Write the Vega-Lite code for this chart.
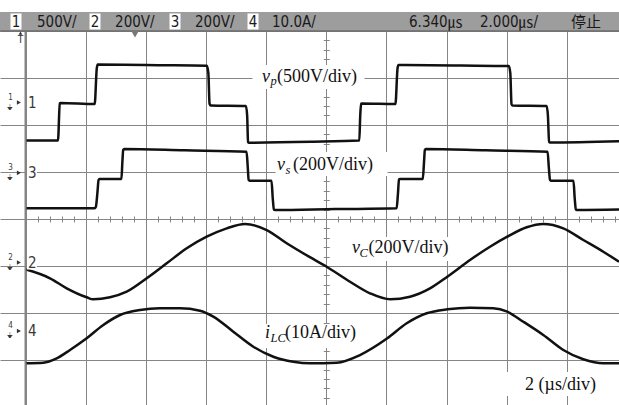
{
  "$schema": "https://vega.github.io/schema/vega-lite/v6.json",
  "width": 619,
  "height": 405,
  "autosize": "none",
  "padding": 0,
  "background": "white",
  "config": {"view": {"stroke": null}},
  "datasets": {
    "traces": [
      {"ch":"vp","t":0,"y":1.668},{"ch":"vp","t":1.08,"y":1.668},{"ch":"vp","t":1.14,"y":2.46},{"ch":"vp","t":1.17,"y":2.468},{"ch":"vp","t":2.30,"y":2.444},{"ch":"vp","t":2.37,"y":3.2},{"ch":"vp","t":2.40,"y":3.284},{"ch":"vp","t":4.5,"y":3.27},{"ch":"vp","t":6.03,"y":3.256},{"ch":"vp","t":6.08,"y":3.1},{"ch":"vp","t":6.12,"y":2.45},{"ch":"vp","t":6.16,"y":2.412},{"ch":"vp","t":7.33,"y":2.402},{"ch":"vp","t":7.37,"y":2.2},{"ch":"vp","t":7.40,"y":1.64},{"ch":"vp","t":7.43,"y":1.622},{"ch":"vp","t":9.5,"y":1.64},{"ch":"vp","t":11.10,"y":1.668},{"ch":"vp","t":11.13,"y":2.2},{"ch":"vp","t":11.16,"y":2.45},{"ch":"vp","t":11.19,"y":2.455},{"ch":"vp","t":12.30,"y":2.444},{"ch":"vp","t":12.37,"y":3.2},{"ch":"vp","t":12.40,"y":3.273},{"ch":"vp","t":14.5,"y":3.262},{"ch":"vp","t":16.07,"y":3.252},{"ch":"vp","t":16.12,"y":3.1},{"ch":"vp","t":16.16,"y":2.44},{"ch":"vp","t":16.19,"y":2.412},{"ch":"vp","t":17.33,"y":2.402},{"ch":"vp","t":17.37,"y":2.2},{"ch":"vp","t":17.41,"y":1.64},{"ch":"vp","t":17.44,"y":1.626},{"ch":"vp","t":19.74,"y":1.652},
      {"ch":"vs","t":0,"y":0.227},{"ch":"vs","t":2.30,"y":0.227},{"ch":"vs","t":2.34,"y":0.26},{"ch":"vs","t":2.39,"y":0.55},{"ch":"vs","t":2.43,"y":0.83},{"ch":"vs","t":2.46,"y":0.85},{"ch":"vs","t":3.19,"y":0.85},{"ch":"vs","t":3.22,"y":1.2},{"ch":"vs","t":3.25,"y":1.47},{"ch":"vs","t":3.28,"y":1.488},{"ch":"vs","t":5.3,"y":1.46},{"ch":"vs","t":7.35,"y":1.43},{"ch":"vs","t":7.39,"y":1.1},{"ch":"vs","t":7.42,"y":0.83},{"ch":"vs","t":7.45,"y":0.814},{"ch":"vs","t":8.18,"y":0.814},{"ch":"vs","t":8.22,"y":0.45},{"ch":"vs","t":8.26,"y":0.2},{"ch":"vs","t":8.29,"y":0.191},{"ch":"vs","t":10.3,"y":0.21},{"ch":"vs","t":12.34,"y":0.227},{"ch":"vs","t":12.38,"y":0.5},{"ch":"vs","t":12.42,"y":0.84},{"ch":"vs","t":12.45,"y":0.85},{"ch":"vs","t":13.21,"y":0.85},{"ch":"vs","t":13.25,"y":1.2},{"ch":"vs","t":13.28,"y":1.47},{"ch":"vs","t":13.31,"y":1.488},{"ch":"vs","t":15.3,"y":1.46},{"ch":"vs","t":17.36,"y":1.43},{"ch":"vs","t":17.40,"y":1.1},{"ch":"vs","t":17.44,"y":0.83},{"ch":"vs","t":17.47,"y":0.814},{"ch":"vs","t":18.22,"y":0.814},{"ch":"vs","t":18.26,"y":0.45},{"ch":"vs","t":18.30,"y":0.2},{"ch":"vs","t":18.33,"y":0.191},{"ch":"vs","t":19.74,"y":0.2},
      {"ch":"vC","t":0,"y":-1.069},{"ch":"vC","t":0.815,"y":-1.26},{"ch":"vC","t":1.37,"y":-1.473},{"ch":"vC","t":2.035,"y":-1.664},{"ch":"vC","t":2.254,"y":-1.707},{"ch":"vC","t":2.81,"y":-1.664},{"ch":"vC","t":3.365,"y":-1.545},{"ch":"vC","t":4.03,"y":-1.26},{"ch":"vC","t":4.695,"y":-0.942},{"ch":"vC","t":5.36,"y":-0.623},{"ch":"vC","t":6.025,"y":-0.376},{"ch":"vC","t":6.69,"y":-0.198},{"ch":"vC","t":7.299,"y":-0.106},{"ch":"vC","t":8.02,"y":-0.234},{"ch":"vC","t":8.685,"y":-0.516},{"ch":"vC","t":9.426,"y":-0.801},{"ch":"vC","t":10.015,"y":-1.014},{"ch":"vC","t":10.79,"y":-1.333},{"ch":"vC","t":11.455,"y":-1.579},{"ch":"vC","t":12.12,"y":-1.707},{"ch":"vC","t":12.785,"y":-1.651},{"ch":"vC","t":13.45,"y":-1.473},{"ch":"vC","t":14.025,"y":-1.226},{"ch":"vC","t":14.78,"y":-0.871},{"ch":"vC","t":15.445,"y":-0.589},{"ch":"vC","t":16.02,"y":-0.376},{"ch":"vC","t":16.665,"y":-0.176},{"ch":"vC","t":17.217,"y":-0.106},{"ch":"vC","t":17.882,"y":-0.198},{"ch":"vC","t":18.547,"y":-0.446},{"ch":"vC","t":19.212,"y":-0.695},{"ch":"vC","t":19.734,"y":-0.908},
      {"ch":"iLC","t":0,"y":-3.067},{"ch":"iLC","t":0.592,"y":-3.054},{"ch":"iLC","t":1.037,"y":-2.961},{"ch":"iLC","t":1.48,"y":-2.784},{"ch":"iLC","t":2.035,"y":-2.536},{"ch":"iLC","t":2.587,"y":-2.253},{"ch":"iLC","t":3.142,"y":-2.04},{"ch":"iLC","t":3.807,"y":-1.934},{"ch":"iLC","t":4.472,"y":-1.898},{"ch":"iLC","t":5.137,"y":-1.898},{"ch":"iLC","t":5.802,"y":-1.949},{"ch":"iLC","t":6.244,"y":-2.074},{"ch":"iLC","t":6.91,"y":-2.395},{"ch":"iLC","t":7.575,"y":-2.714},{"ch":"iLC","t":8.24,"y":-2.927},{"ch":"iLC","t":8.904,"y":-3.033},{"ch":"iLC","t":9.46,"y":-3.067},{"ch":"iLC","t":10.347,"y":-3.054},{"ch":"iLC","t":11.122,"y":-2.891},{"ch":"iLC","t":12.03,"y":-2.536},{"ch":"iLC","t":12.675,"y":-2.217},{"ch":"iLC","t":13.34,"y":-2.004},{"ch":"iLC","t":14.025,"y":-1.919},{"ch":"iLC","t":14.78,"y":-1.885},{"ch":"iLC","t":15.554,"y":-1.898},{"ch":"iLC","t":16.02,"y":-1.97},{"ch":"iLC","t":16.552,"y":-2.183},{"ch":"iLC","t":17.217,"y":-2.465},{"ch":"iLC","t":17.882,"y":-2.784},{"ch":"iLC","t":18.547,"y":-2.982},{"ch":"iLC","t":19.212,"y":-3.067},{"ch":"iLC","t":19.734,"y":-3.067}
    ],
    "ann": [
      {"s":"v","t":7.864,"y":2.922,"k":"it"},{"s":"p","t":8.146,"y":2.848,"k":"sub"},{"s":"(500V/div)","t":8.362,"y":2.922,"k":"rm"},
      {"s":"v","t":8.362,"y":1.041,"k":"it"},{"s":"s","t":8.645,"y":0.967,"k":"sub"},{"s":"(200V/div)","t":8.895,"y":1.041,"k":"rm"},
      {"s":"v","t":10.856,"y":-0.729,"k":"it"},{"s":"C","t":11.106,"y":-0.808,"k":"sub"},{"s":"(200V/div)","t":11.405,"y":-0.729,"k":"rm"},
      {"s":"i","t":7.963,"y":-2.536,"k":"it"},{"s":"LC","t":8.146,"y":-2.614,"k":"sub"},{"s":"(10A/div)","t":8.628,"y":-2.536,"k":"rm"},
      {"s":"2 (µs/div)","t":16.609,"y":-3.634,"k":"rm"}
    ],
    "boxes": [
      {"t":9.41,"y":3.018},{"t":10.175,"y":1.169},{"t":12.452,"y":-0.638},{"t":9.593,"y":-2.487},{"t":17.706,"y":-3.507}
    ],
    "chm": [
      {"n":"1","y":2.476},{"n":"3","y":0.982},{"n":"2","y":-0.925},{"n":"4","y":-2.38}
    ],
    "hdr": [
      {"s":"1","t":-0.316,"b":1},{"s":"500V/","t":0.382,"b":0},
      {"s":"2","t":2.311,"b":1},{"s":"200V/","t":2.979,"b":0},
      {"s":"3","t":4.971,"b":1},{"s":"200V/","t":5.636,"b":0},
      {"s":"4","t":7.565,"b":1},{"s":"10.0A/","t":8.196,"b":0},
      {"s":"6.340㎲","t":12.752,"b":0},{"s":"2.000㎲/","t":15.112,"b":0},{"s":"停止","t":18.138,"b":0}
    ]
  },
  "layer": [
    {
      "data": {"name": "traces"},
      "mark": {"type": "line", "interpolate": "monotone", "color": "#111111", "strokeWidth": 2.5},
      "encoding": {
        "x": {
          "field": "t", "type": "quantitative",
          "scale": {"domain": [-0.8479, 19.734], "nice": false, "zero": false},
          "axis": {
            "orient": "top", "offset": -222, "title": null, "labels": false, "domain": false, "tickCount": 1000,
            "values": [0,0.4,0.8,1.2,1.6,2,2.4,2.8,3.2,3.6,4,4.4,4.8,5.2,5.6,6,6.4,6.8,7.2,7.6,8,8.4,8.8,9.2,9.6,10,10.4,10.8,11.2,11.6,12,12.4,12.8,13.2,13.6,14,14.4,14.8,15.2,15.6,16,16.4,16.8,17.2,17.6,18,18.4,18.8,19.2,19.6],
            "ticks": true, "tickSize": 6, "tickColor": "#858585", "tickWidth": 1,
            "grid": true, "gridColor": "#858585", "gridWidth": 1,
            "gridOpacity": {"condition": {"test": "abs(datum.value/2 - round(datum.value/2)) < 0.01", "value": 1}, "value": 0}
          }
        },
        "y": {
          "field": "y", "type": "quantitative",
          "scale": {"domain": [-3.9532, 4.6546], "nice": false, "zero": false},
          "axis": {
            "orient": "right", "offset": -295.75, "title": null, "labels": false, "domain": false, "tickCount": 1000,
            "values": [-3.8,-3.6,-3.4,-3.2,-3,-2.8,-2.6,-2.4,-2.2,-2,-1.8,-1.6,-1.4,-1.2,-1,-0.8,-0.6,-0.4,-0.2,0,0.2,0.4,0.6,0.8,1,1.2,1.4,1.6,1.8,2,2.2,2.4,2.6,2.8,3,3.2,3.4,3.6,3.8,4],
            "ticks": true, "tickSize": 6, "tickColor": "#858585", "tickWidth": 1,
            "grid": true, "gridColor": "#858585", "gridWidth": 1,
            "gridOpacity": {"condition": {"test": "abs(datum.value - round(datum.value)) < 0.01", "value": 1}, "value": 0}
          }
        },
        "detail": {"field": "ch"}
      }
    },
    {
      "data": {"values": [{}]},
      "mark": {"type": "rule", "color": "#858585", "strokeWidth": 2},
      "encoding": {"x": {"datum": 0}}
    },
    {
      "data": {"name": "boxes"},
      "mark": {"type": "rect", "color": "white", "xOffset": -56, "x2Offset": 56, "yOffset": -12, "y2Offset": 12},
      "encoding": {
        "x": {"field": "t", "type": "quantitative"},
        "x2": {"field": "t"},
        "y": {"field": "y", "type": "quantitative"},
        "y2": {"field": "y"}
      }
    },
    {
      "data": {"name": "chm"},
      "mark": {"type": "rect", "color": "white", "yOffset": -7, "y2Offset": 7},
      "encoding": {
        "x": {"datum": 0.05},
        "x2": {"datum": 0.38},
        "y": {"field": "y", "type": "quantitative"},
        "y2": {"field": "y"}
      }
    },
    {
      "data": {"name": "ann"},
      "transform": [{"filter": "datum.k === 'it'"}],
      "mark": {"type": "text", "align": "left", "baseline": "alphabetic", "font": "Liberation Serif", "fontStyle": "italic", "fontSize": 18, "color": "#111111"},
      "encoding": {
        "x": {"field": "t", "type": "quantitative"},
        "y": {"field": "y", "type": "quantitative"},
        "text": {"field": "s"}
      }
    },
    {
      "data": {"name": "ann"},
      "transform": [{"filter": "datum.k === 'sub'"}],
      "mark": {"type": "text", "align": "left", "baseline": "alphabetic", "font": "Liberation Serif", "fontStyle": "italic", "fontSize": 12.5, "color": "#111111"},
      "encoding": {
        "x": {"field": "t", "type": "quantitative"},
        "y": {"field": "y", "type": "quantitative"},
        "text": {"field": "s"}
      }
    },
    {
      "data": {"name": "ann"},
      "transform": [{"filter": "datum.k === 'rm'"}],
      "mark": {"type": "text", "align": "left", "baseline": "alphabetic", "font": "Liberation Serif", "fontSize": 18, "color": "#111111"},
      "encoding": {
        "x": {"field": "t", "type": "quantitative"},
        "y": {"field": "y", "type": "quantitative"},
        "text": {"field": "s"}
      }
    },
    {
      "data": {"name": "chm"},
      "mark": {"type": "text", "align": "left", "baseline": "middle", "font": "Liberation Sans Narrow, DejaVu Sans Condensed, Liberation Sans", "fontSize": 15, "color": "#3a3a3a"},
      "encoding": {
        "x": {"datum": 0.085},
        "y": {"field": "y", "type": "quantitative"},
        "text": {"field": "n"}
      }
    },
    {
      "data": {"name": "chm"},
      "mark": {"type": "text", "align": "center", "baseline": "bottom", "dy": -1, "font": "Liberation Sans Narrow, DejaVu Sans Condensed, Liberation Sans", "fontSize": 8, "color": "#3a3a3a"},
      "encoding": {
        "x": {"datum": -0.5},
        "y": {"field": "y", "type": "quantitative"},
        "text": {"field": "n"}
      }
    },
    {
      "data": {"name": "chm"},
      "mark": {"type": "text", "align": "center", "baseline": "top", "dy": 1, "font": "DejaVu Sans", "fontSize": 8, "color": "#3a3a3a", "text": "⏚"},
      "encoding": {
        "x": {"datum": -0.5},
        "y": {"field": "y", "type": "quantitative"}
      }
    },
    {
      "data": {"name": "chm"},
      "mark": {"type": "point", "shape": "triangle-right", "filled": true, "size": 22, "color": "#333333", "opacity": 1},
      "encoding": {
        "x": {"datum": -0.22},
        "y": {"field": "y", "type": "quantitative"}
      }
    },
    {
      "data": {"values": [{}]},
      "mark": {"type": "rect", "color": "white"},
      "encoding": {
        "x": {"datum": -0.85}, "x2": {"datum": 19.74},
        "y": {"datum": 4.66}, "y2": {"datum": 4.40}
      }
    },
    {
      "data": {"values": [{}]},
      "mark": {"type": "rect", "color": "#9d9d9d"},
      "encoding": {
        "x": {"datum": -0.85}, "x2": {"datum": 19.74},
        "y": {"datum": 4.40}, "y2": {"datum": 3.995}
      }
    },
    {
      "data": {"values": [{}]},
      "mark": {"type": "rule", "color": "#6e6e6e", "strokeWidth": 1.5},
      "encoding": {"y": {"datum": 3.995}}
    },
    {
      "data": {"name": "hdr"},
      "transform": [{"filter": "datum.b === 1"}],
      "mark": {"type": "rect", "color": "white", "xOffset": -5.5, "x2Offset": 5.5, "yOffset": -8, "y2Offset": 8},
      "encoding": {
        "x": {"field": "t", "type": "quantitative"}, "x2": {"field": "t"},
        "y": {"datum": 4.198}, "y2": {"datum": 4.198}
      }
    },
    {
      "data": {"name": "hdr"},
      "transform": [{"filter": "datum.b === 1"}],
      "mark": {"type": "text", "align": "center", "baseline": "alphabetic", "font": "Liberation Sans Narrow, DejaVu Sans Condensed, Liberation Sans", "fontSize": 15, "color": "#1a1a1a"},
      "encoding": {
        "x": {"field": "t", "type": "quantitative"},
        "y": {"datum": 4.091},
        "text": {"field": "s"}
      }
    },
    {
      "data": {"name": "hdr"},
      "transform": [{"filter": "datum.b === 0"}],
      "mark": {"type": "text", "align": "left", "baseline": "alphabetic", "font": "Liberation Sans Narrow, DejaVu Sans Condensed, Liberation Sans, Noto Sans CJK SC", "fontSize": 15, "color": "#1a1a1a"},
      "encoding": {
        "x": {"field": "t", "type": "quantitative"},
        "y": {"datum": 4.091},
        "text": {"field": "s"}
      }
    },
    {
      "data": {"values": [{}]},
      "mark": {"type": "point", "shape": "triangle-down", "filled": true, "size": 60, "color": "#777777", "opacity": 1},
      "encoding": {"x": {"datum": 3.641}, "y": {"datum": 3.93}}
    },
    {
      "data": {"values": [{}]},
      "mark": {"type": "point", "shape": "triangle-up", "filled": true, "size": 14, "color": "#333333", "opacity": 1},
      "encoding": {"x": {"datum": -0.166}, "y": {"datum": 3.95}}
    },
    {
      "data": {"values": [{}]},
      "mark": {"type": "text", "text": "T", "align": "center", "baseline": "middle", "fontSize": 10, "font": "Liberation Sans", "color": "#333333"},
      "encoding": {"x": {"datum": -0.166}, "y": {"datum": 3.81}}
    }
  ]
}
